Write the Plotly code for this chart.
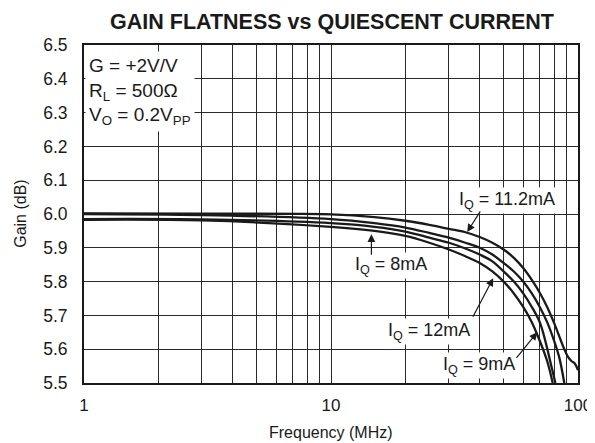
import numpy as np
import plotly.graph_objects as go

# frequency (MHz) and gain (dB)
f_112 = [1, 3, 10, 15, 20, 25, 30, 35, 40, 45, 50, 55, 60, 65, 70, 75, 80, 85, 88, 91, 94, 97, 100]
g_112 = [6.002, 6.001, 5.999, 5.991, 5.980, 5.968, 5.956, 5.946, 5.932, 5.915, 5.895, 5.870, 5.840,
         5.805, 5.767, 5.725, 5.678, 5.628, 5.600, 5.578, 5.565, 5.558, 5.538]

f_12 = [1, 3, 10, 15, 20, 25, 30, 35, 40, 45, 50, 55, 60, 65, 70, 75, 80, 84, 88]
g_12 = [6.000, 5.997, 5.985, 5.973, 5.960, 5.944, 5.930, 5.915, 5.900, 5.880, 5.855, 5.830, 5.800,
        5.765, 5.725, 5.680, 5.625, 5.575, 5.500]

f_9 = [1, 3, 10, 15, 20, 25, 30, 35, 40, 45, 50, 55, 60, 65, 70, 74, 78, 81]
g_9 = [5.985, 5.984, 5.973, 5.962, 5.948, 5.930, 5.915, 5.898, 5.880, 5.860, 5.830, 5.800, 5.765,
       5.725, 5.680, 5.620, 5.550, 5.500]

f_8 = [1, 3, 10, 15, 20, 25, 30, 35, 40, 45, 50, 55, 60, 65, 70, 75, 79]
g_8 = [5.983, 5.981, 5.962, 5.950, 5.935, 5.915, 5.895, 5.875, 5.855, 5.830, 5.800, 5.765, 5.725,
       5.680, 5.625, 5.565, 5.500]

y_ticks = [5.5, 5.6, 5.7, 5.8, 5.9, 6.0, 6.1, 6.2, 6.3, 6.4, 6.5]
x_grid = [1, 2, 3, 4, 5, 6, 7, 8, 9, 10, 20, 30, 40, 50, 60, 70, 80, 90, 100]
x_labels = ["1", "", "", "", "", "", "", "", "", "10", "", "", "", "", "", "", "", "", "100"]

FONT = "Liberation Sans, Arial, sans-serif"
INK = "#1a1a1a"

fig = go.Figure()
for fx, gy in [(f_112, g_112), (f_12, g_12), (f_9, g_9), (f_8, g_8)]:
    fig.add_trace(go.Scatter(x=fx, y=gy, mode="lines", line=dict(color=INK, width=2.3),
                             line_shape="spline", showlegend=False))

# condition box, top left
fig.add_annotation(xref="paper", yref="paper", x=0.003, y=0.982, xanchor="left", yanchor="top",
                   text="G = +2V/V<br>R<sub>L</sub> = 500Ω<br>V<sub>O</sub> = 0.2V<sub>PP</sub>",
                   align="left", showarrow=False, bgcolor="white", borderpad=3,
                   font=dict(size=19, color=INK, family=FONT))

# curve labels
labels = [
    ("I<sub>Q</sub> = 11.2mA", 1.713, 6.041),
    ("I<sub>Q</sub> = 8mA", 1.244, 5.849),
    ("I<sub>Q</sub> = 12mA", 1.398, 5.652),
    ("I<sub>Q</sub> = 9mA", 1.600, 5.552),
]
for txt, lx, ly in labels:
    fig.add_annotation(x=lx, y=ly, text=txt, showarrow=False, bgcolor="white", borderpad=1,
                       font=dict(size=18, color=INK, family=FONT))

# arrows: tip (data), tail offset (px)
arrows = [
    (1.5515, 5.947, 14, -22),
    (1.1636, 5.940, 0, 22),
    (1.6566, 5.810, -21, 40),
    (1.835, 5.650, -22, 27),
]
for ax_, ay_, dx, dy in arrows:
    fig.add_annotation(x=ax_, y=ay_, ax=dx, ay=dy, text="", showarrow=True,
                       arrowhead=2, arrowsize=1.3, arrowwidth=1.2, arrowcolor=INK)

# axis titles
fig.add_annotation(xref="paper", yref="paper", x=0.5, y=-0.145, yanchor="middle", showarrow=False,
                   text="Frequency (MHz)", font=dict(size=16, color=INK, family=FONT))
fig.add_annotation(xref="paper", yref="paper", x=-0.13, y=0.5, xanchor="center", yanchor="middle",
                   textangle=-90, showarrow=False,
                   text="Gain (dB)", font=dict(size=16, color=INK, family=FONT))

fig.update_xaxes(type="log", range=[0, 2], tickmode="array", tickvals=x_grid, ticktext=x_labels,
                 showgrid=True, gridcolor="#2a2a2a", gridwidth=1, ticks="", automargin=False,
                 ticklabelstandoff=6,
                 showline=True, linecolor=INK, linewidth=2, mirror=True, zeroline=False,
                 tickfont=dict(size=17, color=INK, family=FONT))
fig.update_yaxes(range=[5.5, 6.5], tickmode="array", tickvals=y_ticks,
                 ticktext=[f"{v:.1f}" for v in y_ticks], automargin=False,
                 ticklabelstandoff=11,
                 showgrid=True, gridcolor="#2a2a2a", gridwidth=1, ticks="",
                 showline=True, linecolor=INK, linewidth=2, mirror=True, zeroline=False,
                 tickfont=dict(size=17.5, color=INK, family=FONT))

# page body adds an 8px margin, so the figure is drawn 8px smaller
fig.update_layout(
    width=587, height=435,
    margin=dict(l=76, r=17, t=37, b=60, autoexpand=False),
    paper_bgcolor="white", plot_bgcolor="white",
    title=dict(text="<b>GAIN FLATNESS vs QUIESCENT CURRENT</b>", x=0.552, xanchor="center",
               y=0.97, yanchor="middle", font=dict(size=21.5, color=INK, family=FONT)),
)

fig.write_html("out.html")
